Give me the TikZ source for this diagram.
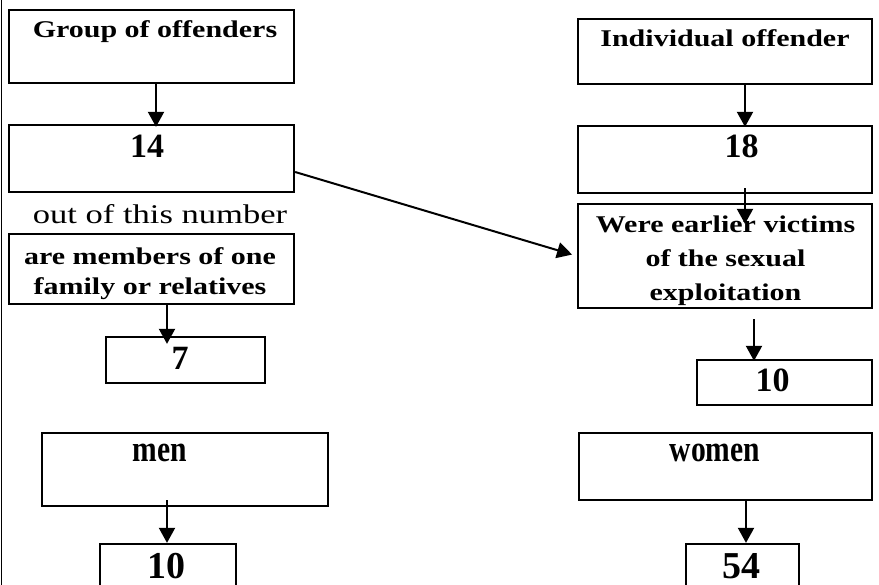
\documentclass[tikz,border=0pt]{standalone}
\usepackage{fontspec}
\setmainfont{Liberation Serif}
\newfontfamily\widefont{Liberation Serif}[FakeStretch=1.25]
\newfontfamily\outfont{Liberation Serif}[FakeStretch=1.28]
\newfontfamily\narrowfont{Liberation Serif}[FakeStretch=0.8]
\usetikzlibrary{arrows.meta}

\begin{document}
\begin{tikzpicture}[x=1pt,y=-1pt,
		box/.style={draw,line width=2.3pt,inner sep=0pt},
		arr/.style={line width=2pt,-{Triangle[width=16pt,length=15pt]}},
		lbl/.style={anchor=base,inner sep=0pt,align=center,font=\widefont\bfseries\fontsize{24}{34}\selectfont},
		num/.style={anchor=base,inner sep=0pt,font=\bfseries\fontsize{34}{34}\selectfont},
		low/.style={font=\narrowfont\bfseries\fontsize{37}{37}\selectfont}]
		\useasboundingbox (0,0) rectangle (879,585);
		\clip (0,0) rectangle (879,585);
		\draw[line width=1pt] (1.5,0) -- (1.5,585);
		% left column
		\node[box,minimum width=285,minimum height=73] (group) at (151.5,46.5) {};
		\node[box,minimum width=285,minimum height=67] (b14) at (151.5,158.5) {};
		\node[box,minimum width=285,minimum height=70] (family) at (151.5,269) {};
		\node[box,minimum width=159,minimum height=46] (b7) at (185.5,360) {};
		\node[box,minimum width=286,minimum height=73] (men) at (185,469.5) {};
		\node[box,minimum width=136,minimum height=60] (b10l) at (168,574) {};
		\node[lbl] (grouptxt) at (155,38) {Group of offenders};
		\node[num] (n14) at (147,158) {14};
		\node[anchor=base,inner sep=0pt,font=\outfont\fontsize{27}{27}\selectfont] (outtxt) at (160,224) {out of this number};
		\node[lbl] (familytxt) at (150,295) {are members of one\\[-4pt]family or relatives};
		\node[num] (n7) at (180,370) {7};
		\node[lbl,low] (mentxt) at (160,461) {men};
		\node[num,font=\bfseries\fontsize{38}{38}\selectfont] (n10l) at (166,578) {10};
		% right column
		\node[box,minimum width=294,minimum height=65] (indiv) at (725,51.5) {};
		\node[box,minimum width=294,minimum height=67] (b18) at (725,159.5) {};
		\node[box,minimum width=294,minimum height=104] (were) at (725,256) {};
		\node[box,minimum width=175,minimum height=45] (b10r) at (784.5,382.5) {};
		\node[box,minimum width=293,minimum height=67] (women) at (725.5,466.5) {};
		\node[box,minimum width=113,minimum height=60] (b54) at (742.5,574) {};
		\node[lbl] (indivtxt) at (725,47) {Individual offender};
		\node[num] (n18) at (741.5,158) {18};
		\node[lbl] (weretxt) at (725.5,301) {Were earlier victims\\of the sexual\\exploitation};
		\node[num] (n10r) at (772.5,392) {10};
		\node[lbl,low] (womentxt) at (715,462) {women};
		\node[num,font=\bfseries\fontsize{38}{38}\selectfont] (n54) at (741,578) {54};
		% arrows
		\draw[arr,shorten >=-3pt] ([xshift=4.5]group.south) -- ([xshift=4.5]b14.north);
		\draw[arr,shorten >=5pt] ([yshift=-13.5]b14.east) -- (were.west);
		\draw[arr,shorten >=-8pt] ([xshift=15.5]family.south) -- ([xshift=-18.5]b7.north);
		\draw[arr,shorten <=-7pt] ([xshift=-18]men.south) -- ([xshift=-1]b10l.north);
		\draw[arr,shorten >=-2pt] ([xshift=20]indiv.south) -- ([xshift=20]b18.north);
		\draw[arr,shorten <=-6pt,shorten >=-21pt] ([xshift=20]b18.south) -- ([xshift=20]were.north);
		\draw[arr,shorten <=10pt,shorten >=-2pt] ([xshift=29]were.south) -- ([xshift=-30.5]b10r.north);
		\draw[arr,shorten <=-1pt] ([xshift=20.5]women.south) -- ([xshift=3.5]b54.north);
	\end{tikzpicture}
\end{document}
